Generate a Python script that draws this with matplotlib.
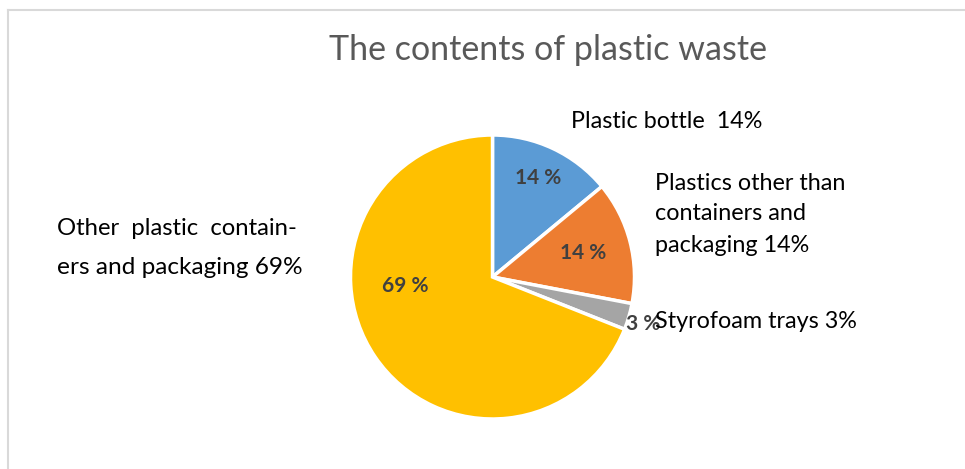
import numpy as np
import matplotlib
matplotlib.use("Agg")
import matplotlib.pyplot as plt
from matplotlib.lines import Line2D

plt.rcParams["font.family"] = ["Lato", "DejaVu Sans"]

# data
categories = ["Plastic bottle", "Plastics other than containers and packaging",
              "Styrofoam trays", "Other plastic containers and packaging"]
shares = [14, 14, 3, 69]
colors = ["#5B9BD5", "#ED7D31", "#A5A5A5", "#FFC000"]
title = "The contents of plastic waste"

W, H = 965, 469
fig = plt.figure(figsize=(W/100, H/100), dpi=100)

def fx(px):
    return px/W

def fy(py):
    return 1 - py/H

# chart frame (only top and left edge show in the crop)
fig.add_artist(Line2D([fx(8), fx(8)], [fy(10), 0], color="#d9d9d9", lw=1.5))
fig.add_artist(Line2D([fx(8), 1], [fy(10), fy(10)], color="#d9d9d9", lw=1.5))

cx, cy, r = 492.5, 277, 142
ax = fig.add_axes([fx(cx - r), fy(cy + r), 2*r/W, 2*r/H])
wedges, texts, autotexts = ax.pie(
    shares, colors=colors, startangle=90, counterclock=False,
    autopct="%.0f %%", pctdistance=0.7,
    wedgeprops=dict(edgecolor="white", linewidth=2.5),
    textprops=dict(color="#404040", fontsize=15, fontweight="bold"))
ax.set_xlim(-1, 1)
ax.set_ylim(-1, 1)
ax.set_aspect("equal")

# Excel "best fit" positions of the percent labels (radius, angle in deg)
pct_pos = [(0.77, 65.5), (0.66, 15.0), (1.11, -17.3), (0.62, 186.0)]
for t, (rr, ang) in zip(autotexts, pct_pos):
    a = np.deg2rad(ang)
    t.set_position((rr*np.cos(a), rr*np.sin(a)))
    t.set_ha("center")
    t.set_va("center")

fig.text(fx(548), fy(50), title, ha="center", va="center",
         fontsize=24.5, color="#595959")

lab = dict(fontsize=16.8, color="black", va="center", ha="left")
fig.text(fx(571), fy(122), f"{categories[0]}  {shares[0]}%", **lab)
fig.text(fx(655), fy(183), "Plastics other than", **lab)
fig.text(fx(655), fy(214), "containers and", **lab)
fig.text(fx(655), fy(245), f"packaging {shares[1]}%", **lab)
fig.text(fx(655), fy(322), f"{categories[2]} {shares[2]}%", **lab)
fig.text(fx(57), fy(228), "Other  plastic  contain-", fontsize=17.2,
         color="black", va="center", ha="left")
fig.text(fx(57), fy(268), f"ers and packaging {shares[3]}%", fontsize=17.6,
         color="black", va="center", ha="left")

fig.savefig("out.png", dpi=100)
